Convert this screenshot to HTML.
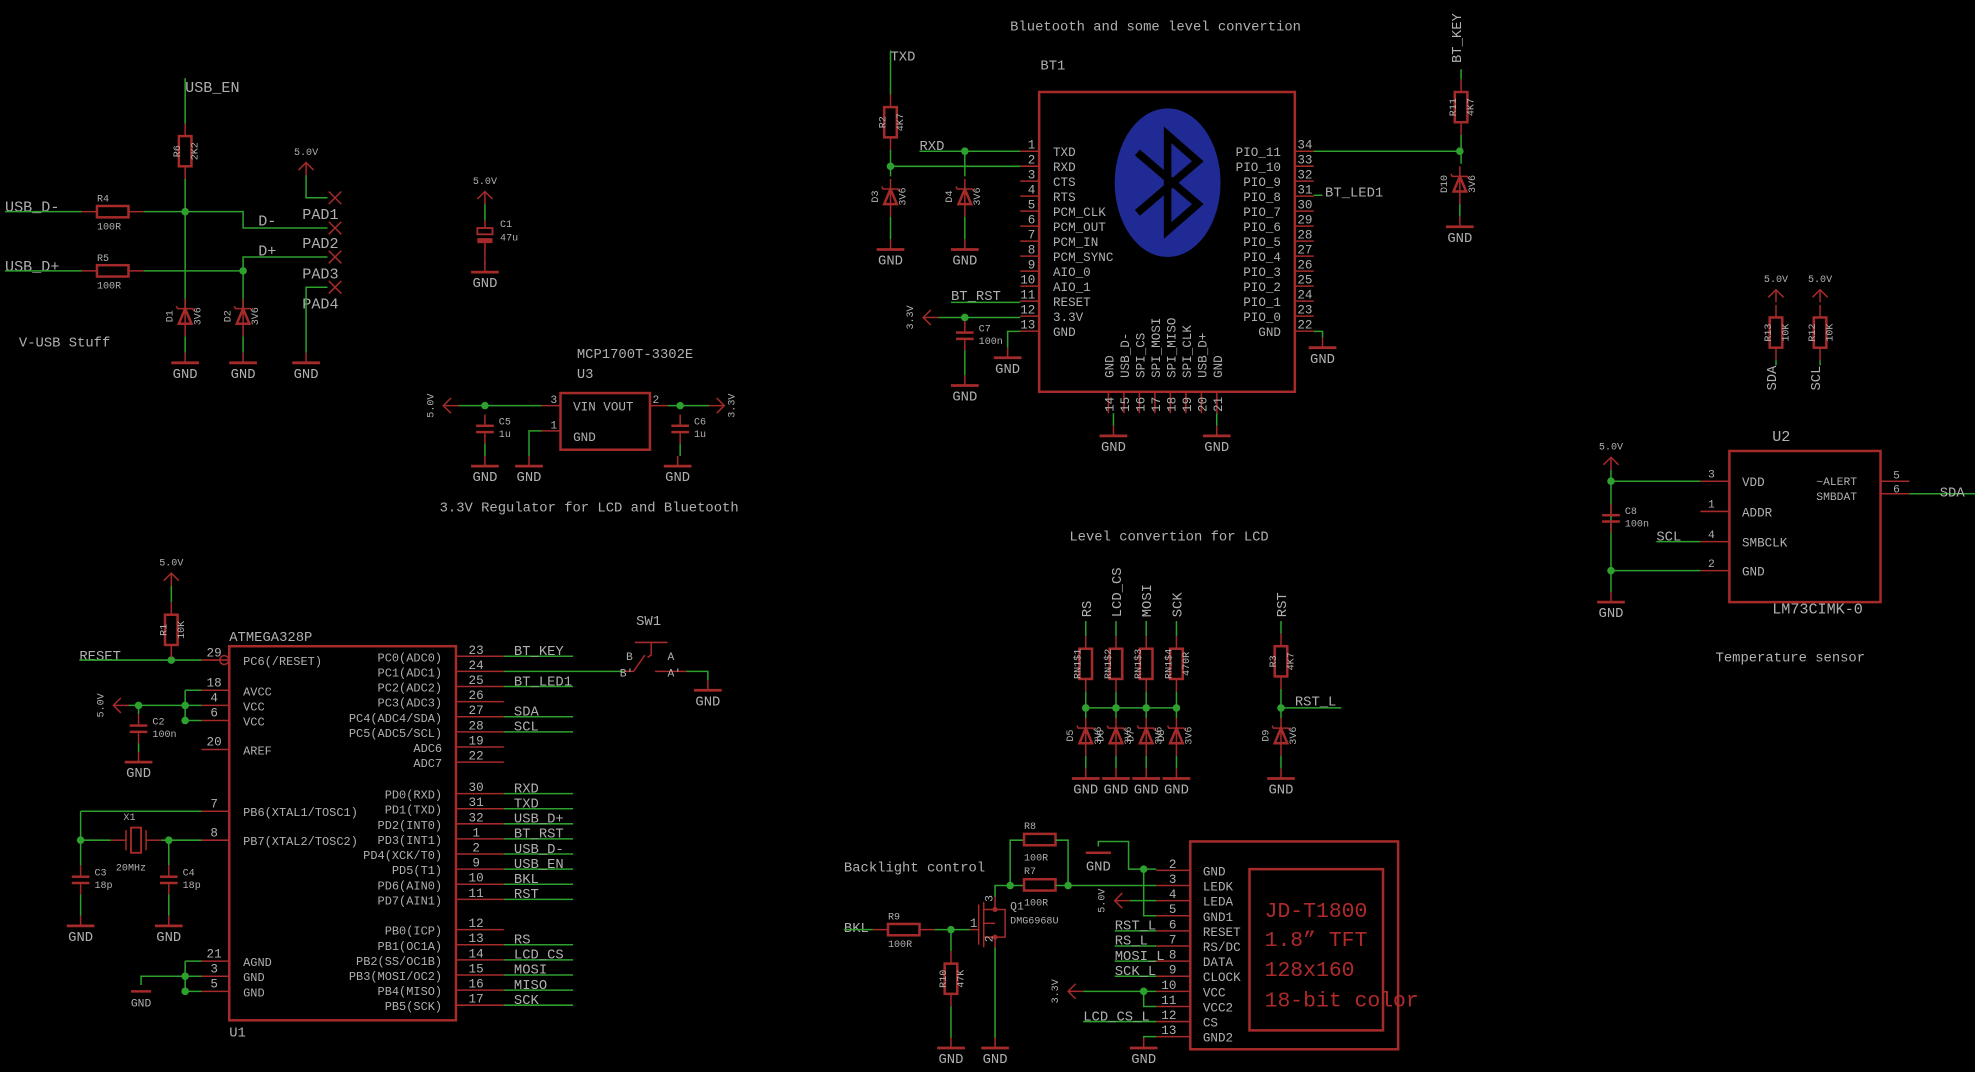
<!DOCTYPE html>
<html><head><meta charset="utf-8"><style>
html,body{margin:0;padding:0;background:#000;overflow:hidden}
svg{display:block}
text{font-family:"Liberation Mono",monospace;fill:#b0b0b0}
</style></head><body>
<svg id="s" width="1975" height="1072" viewBox="0 0 1568 851" xmlns="http://www.w3.org/2000/svg"></svg>
<script>
var o='';var RC='#a52a2a',GC='#2ea02e';
function pl(c,p,w){o+='<polyline points="'+p.join(' ')+'" fill="none" stroke="'+c+'" stroke-width="'+(w||1.2)+'"/>';}
function g(){pl(GC,[].slice.call(arguments));}
function r(){pl(RC,[].slice.call(arguments));}
function t(x,y,s,sz,a,rot,col){sz=sz||11;var tr=rot?' transform="rotate(-90 '+x+' '+y+')"':'';o+='<text x="'+x+'" y="'+y+'" font-size="'+sz+'"'+(a?' text-anchor="'+a+'"':'')+tr+(col?' style="fill:'+col+'"':'')+'>'+s+'</text>';}
function box(x,y,w,h,sw){o+='<rect x="'+x+'" y="'+y+'" width="'+w+'" height="'+h+'" fill="none" stroke="'+RC+'" stroke-width="'+(sw||2)+'"/>';}
function dot(x,y){o+='<circle cx="'+x+'" cy="'+y+'" r="3" fill="'+GC+'"/>';}
function resV(x,y,n,v){r(x+','+(y-10),x+','+y);box(x-5,y,10,24);r(x+','+(y+24),x+','+(y+34));if(n)t(x-4,y+12,n,8,'middle',1);if(v)t(x+10,y+12,v,8,'middle',1);}
function resH(x,y,n,v){r((x-12)+','+y,x+','+y);box(x,y-4.5,25,9);r((x+25)+','+y,(x+37)+','+y);if(n)t(x,y-8,n,8);if(v)t(x,y+14,v,8);}
function gnd(x,y,lab){o+='<line x1="'+(x-11)+'" y1="'+y+'" x2="'+(x+11)+'" y2="'+y+'" stroke="'+RC+'" stroke-width="2.2"/>';r(x+','+(y-8),x+','+y);t(x,y+12,lab||'GND',11,'middle');}
function sup(x,y,lab){r((x-6)+','+(y+6),x+','+y,(x+6)+','+(y+6));r(x+','+y,x+','+(y+10));t(x,y-6,lab,8,'middle');}
function supL(x,y,lab){r((x+6)+','+(y-6),x+','+y,(x+6)+','+(y+6));r(x+','+y,(x+12)+','+y);t(x-8,y,lab,8,'middle',1);}
function supR(x,y,lab){r((x-6)+','+(y-6),x+','+y,(x-6)+','+(y+6));r(x+','+y,(x-12)+','+y);t(x+8,y,lab,8,'middle',1);}
function dio(x,y,n,v){r(x+','+(y-8),x+','+(y+22));o+='<polygon points="'+(x-5)+','+(y+12)+' '+(x+5)+','+(y+12)+' '+x+','+y+'" fill="none" stroke="'+RC+'" stroke-width="2"/>';r((x-7)+','+(y-2),(x-6)+','+y,(x+6)+','+y,(x+7)+','+(y+2));t(x-10,y+6,n,8,'middle',1);t(x+12,y+6,v||'3V6',8,'middle',1);}
function cap(x,y,n,v){r(x+','+(y-8),x+','+y);o+='<rect x="'+(x-7)+'" y="'+y+'" width="14" height="2" fill="'+RC+'"/><rect x="'+(x-7)+'" y="'+(y+5)+'" width="14" height="2" fill="'+RC+'"/>';r(x+','+(y+7),x+','+(y+15));if(n)t(x+11,y,n,8);if(v)t(x+11,y+10,v,8);}
function X(x,y){r((x-5)+','+(y-5),(x+5)+','+(y+5));r((x-5)+','+(y+5),(x+5)+','+(y-5));}

/* V-USB */
t(147,73,'USB_EN',12);g('147,62','147,98');resV(147,108,'R6','2K2');g('147,142','147,245');dot(147,168);
t(4,168,'USB_D-',12);g('4,168','65,168');resH(77,168,'R4','100R');g('114,168','193,168','193,181','260,181');t(205,179,'D-',12);X(266,181);
t(4,215,'USB_D+',12);g('4,215','65,215');resH(77,215,'R5','100R');g('114,215','193,215');dot(193,215);g('193,215','193,204','260,204');t(205,203,'D+',12);X(266,204);
sup(243,129,'5.0V');g('243,139','243,157','260,157');X(266,157);
t(240,174,'PAD1',12);t(240,197,'PAD2',12);t(240,221,'PAD3',12);t(240,245,'PAD4',12);
X(266,228);g('260,228','243,228','243,280');gnd(243,288);
g('193,215','193,245');dio(147,245,'D1');dio(193,245,'D2');g('147,267','147,280');g('193,267','193,280');gnd(147,288);gnd(193,288);
t(15,275,'V-USB Stuff',11);
/* C1 */
sup(385,152,'5.0V');g('385,162','385,175');r('385,175','385,181');o+='<rect x="379" y="181" width="12" height="5" fill="none" stroke="'+RC+'" stroke-width="1.5"/><rect x="379" y="189" width="12" height="4" fill="'+RC+'"/>';t(397,180,'C1',8);t(397,191,'47u',8);r('385,193','385,210');gnd(385,216);
/* U3 */
t(458,284,'MCP1700T-3302E',11);t(458,300,'U3',11);box(445,312,71,45);t(455,326,'VIN VOUT',10);t(455,350,'GND',10);
r('430,322','445,322');t(437,320,'3',9);supL(352,322,'5.0V');g('364,322','430,322');dot(385,322);cap(385,337,'C5','1u');g('385,352','385,362');gnd(385,370);
r('430,342','445,342');t(437,340,'1',9);g('430,342','420,342','420,362');gnd(420,370);
r('516,322','530,322');t(518,320,'2',9);supR(575,322,'3.3V');g('530,322','563,322');dot(540,322);cap(540,337,'C6','1u');g('540,352','540,362');gnd(538,370);
t(349,406,'3.3V Regulator for LCD and Bluetooth',11);
/* BT1 */
t(802,24,'Bluetooth and some level convertion',11);t(826,55,'BT1',11);box(825,73,203,238);
o+='<ellipse cx="927" cy="145" rx="42" ry="59" fill="#1f2a94"/>';
pl('#000',['903,121','951,162','927,183','927,107','951,128','903,169'],6);
var L=['TXD','RXD','CTS','RTS','PCM_CLK','PCM_OUT','PCM_IN','PCM_SYNC','AIO_0','AIO_1','RESET','3.3V','GND'];
for(var i=0;i<13;i++){var y=120+i*11.9;r('810,'+y,'825,'+y);t(822,y-2,i+1,10,'end');t(836,y+4,L[i],10);}
var RR=['PIO_11','PIO_10','PIO_9','PIO_8','PIO_7','PIO_6','PIO_5','PIO_4','PIO_3','PIO_2','PIO_1','PIO_0','GND'];
for(var i=0;i<13;i++){var y=120+i*11.9;r('1028,'+y,'1043,'+y);t(1030,y-2,34-i,10);t(1017,y+4,RR[i],10,'end');}
var B=['GND','USB_D-','SPI_CS','SPI_MOSI','SPI_MISO','SPI_CLK','USB_D+','GND'];
for(var i=0;i<8;i++){var x=880+i*12.3;r(x+',311',x+',328');t(x+4,300,B[i],10,null,1);t(x+4,327,14+i,10,null,1);}
g('884,328','884,338');gnd(884,346);g('966,328','966,338');gnd(966,346);
t(707,48,'TXD',11);g('707,40','707,75');resV(707,85,'R2','4K7');g('707,119','707,140');dot(707,132);g('707,132','810,132');dio(707,150,'D3');g('707,172','707,190');gnd(707,198);
t(730,119,'RXD',11);g('730,120','810,120');dot(766,120);g('766,120','766,140');dio(766,150,'D4');g('766,172','766,190');gnd(766,198);
t(755,238,'BT_RST',11);g('755,240','810,240');supL(733,252,'3.3V');g('745,252','810,252');dot(766,252);cap(766,263,'C7','100n');g('766,278','766,298');gnd(766,306);
g('810,263','800,263','800,276');gnd(800,284);
t(1160,50,'BT_KEY',11,null,1);g('1160,55','1160,63');resV(1160,73,'R11','4K7');g('1160,107','1160,130');dot(1159,120);g('1043,120','1159,120');dio(1159,140,'D10');g('1159,162','1159,172');gnd(1159,180);
t(1052,156,'BT_LED1',11);g('1043,155','1050,155');g('1043,263','1050,263','1050,268');gnd(1050,276);
/* U2 */
box(1373,358,120,120);t(1407,350,'U2',12);t(1407,487,'LM73CIMK-0',12);t(1362,525,'Temperature sensor',11);
var ul=[[382,'3','VDD'],[406,'1','ADDR'],[430,'4','SMBCLK'],[453,'2','GND']];
ul.forEach(function(p){r('1350,'+p[0],'1373,'+p[0]);t(1356,p[0]-3,p[1],9);t(1383,p[0]+4,p[2],10);});
r('1493,382','1516,382');t(1503,380,'5',9);r('1493,392','1516,392');t(1503,391,'6',9);t(1442,385,'~ALERT',9);t(1442,397,'SMBDAT',9);
g('1516,392','1568,392');t(1540,394,'SDA',11);
sup(1279,363,'5.0V');g('1279,373','1279,453');g('1279,382','1350,382');dot(1279,382);cap(1279,408,'C8','100n');dot(1279,453);g('1279,453','1350,453');g('1279,453','1279,470');gnd(1279,478);
t(1315,429,'SCL',11);g('1315,430','1350,430');
sup(1410,230,'5.0V');resV(1410,252,'R13','10K');t(1410,310,'SDA',11,null,1);g('1410,286','1410,290');
sup(1445,230,'5.0V');resV(1445,252,'R12','10K');t(1445,310,'SCL',11,null,1);g('1445,286','1445,290');
/* Level */
t(849,429,'Level convertion for LCD',11);
var cols=[[862,'RS','D5','RN1$1'],[886,'LCD_CS','D6','RN1$2'],[910,'MOSI','D7','RN1$3'],[934,'SCK','D8','RN1$4']];
cols.forEach(function(c,i){var x=c[0];t(x+4,490,c[1],11,null,1);g(x+',493',x+',505');resV(x,515,c[3],i==3?'470R':'');g(x+',549',x+',570');dot(x,562);dio(x,578,c[2]);g(x+',600',x+',610');gnd(x,618);});
g('862,562','934,562');
t(1021,490,'RST',11,null,1);g('1017,493','1017,503');resV(1017,513,'R3','4K7');g('1017,547','1017,570');dot(1017,562);g('1017,562','1065,562');t(1028,560,'RST_L',11);dio(1017,578,'D9');g('1017,600','1017,610');gnd(1017,618);
/* ATMEGA */
box(182,513,180,297);t(182,509,'ATMEGA328P',11);t(182,823,'U1',11);
var al=[[524,'29','PC6(/RESET)'],[548,'18','AVCC'],[560,'4','VCC'],[572,'6','VCC'],[595,'20','AREF'],[644,'7','PB6(XTAL1/TOSC1)'],[667,'8','PB7(XTAL2/TOSC2)'],[763,'21','AGND'],[775,'3','GND'],[787,'5','GND']];
al.forEach(function(p){r('160,'+p[0],'182,'+p[0]);t(170,p[0]-3,p[1],10,'middle');t(193,p[0]+4,p[2],9.5);});
o+='<circle cx="178" cy="524" r="3.5" fill="none" stroke="'+RC+'" stroke-width="1.2"/>';
var ar=[[521,'23','PC0(ADC0)','BT_KEY'],[533,'24','PC1(ADC1)',''],[545,'25','PC2(ADC2)','BT_LED1'],[557,'26','PC3(ADC3)',''],[569,'27','PC4(ADC4/SDA)','SDA'],[581,'28','PC5(ADC5/SCL)','SCL'],[593,'19','ADC6',''],[605,'22','ADC7',''],[630,'30','PD0(RXD)','RXD'],[642,'31','PD1(TXD)','TXD'],[654,'32','PD2(INT0)','USB_D+'],[666,'1','PD3(INT1)','BT_RST'],[678,'2','PD4(XCK/T0)','USB_D-'],[690,'9','PD5(T1)','USB_EN'],[702,'10','PD6(AIN0)','BKL'],[714,'11','PD7(AIN1)','RST'],[738,'12','PB0(ICP)',''],[750,'13','PB1(OC1A)','RS'],[762,'14','PB2(SS/OC1B)','LCD_CS'],[774,'15','PB3(MOSI/OC2)','MOSI'],[786,'16','PB4(MISO)','MISO'],[798,'17','PB5(SCK)','SCK']];
ar.forEach(function(p){r('362,'+p[0],'400,'+p[0]);t(378,p[0]-2,p[1],10,'middle');t(351,p[0]+4,p[2],9.5,'end');if(p[3]){g('400,'+p[0],'455,'+p[0]);t(408,p[0]-1,p[3],11);}});
g('400,533','495,533');t(505,496,'SW1',11);r('495,533','503,533','512,520');r('520,533','545,533');r('504,510','530,510');r('517,510','517,520','514,522');t(497,524,'B',9);t(530,524,'A',9);t(492,537,"B'",9);t(530,537,"A'",9);
g('545,533','562,533','562,540');gnd(562,548);
t(63,524,'RESET',11);g('63,524','160,524');dot(136,524);sup(136,455,'5.0V');g('136,465','136,478');resV(136,488,'R1','10K');
supL(90,560,'5.0V');g('102,560','160,560');g('147,548','147,572');g('147,548','160,548');g('147,572','160,572');dot(147,560);dot(147,572);dot(110,560);g('110,560','110,567');cap(110,575,'C2','100n');g('110,590','110,597');gnd(110,605);
g('64,644','160,644');g('64,644','64,687');g('64,667','88,667');r('88,667','100,667');o+='<rect x="104" y="657" width="8" height="20" fill="none" stroke="'+RC+'" stroke-width="1.5"/>';r('100,659','100,675');r('116,659','116,675');r('116,667','128,667');g('128,667','160,667');dot(64,667);dot(134,667);t(98,651,'X1',8);t(92,691,'20MHz',8);
cap(64,695,'C3','18p');g('64,710','64,727');gnd(64,735);g('134,667','134,687');cap(134,695,'C4','18p');g('134,710','134,727');gnd(134,735);
g('147,763','160,763');g('147,775','160,775');g('147,787','160,787');g('147,763','147,787');dot(147,775);dot(147,787);g('147,775','112,775','112,782');o+='<line x1="104" y1="787" x2="120" y2="787" stroke="'+RC+'" stroke-width="2"/>';t(112,799,'GND',9,'middle');
/* Backlight */
t(670,692,'Backlight control',11);t(670,740,'BKL',11);g('670,738','693,738');resH(705,738,'R9','100R');g('742,738','770,738');dot(755,738);g('755,738','755,755');resV(755,765,'R10','47K');g('755,799','755,824');gnd(755,832);
r('770,738','777,738');r('777,718','777,750');r('781,716','781,752');r('781,722','790,722','790,712');r('781,744','790,744','790,752');r('781,733','790,733');o+='<circle cx="790" cy="722" r="2" fill="'+RC+'"/><circle cx="790" cy="744" r="2" fill="'+RC+'"/>';r('790,722','798,722','798,744','790,744');t(802,722,'Q1',9);t(802,733,'DMG6968U',8);t(788,716,'3',9,null,1);t(788,748,'2',9,null,1);t(770,736,'1',10);
g('790,712','790,703','813,703');g('802,703','802,667','813,667');dot(802,703);r('813,667','813,667');box(813,662,25,9);box(813,698,25,9);t(813,658,'R8',8);t(813,683,'100R',8);t(813,694,'R7',8);t(813,719,'100R',8);
g('838,667','848,667','848,703');g('838,703','918,703');dot(848,703);g('790,752','790,824');gnd(790,832);
g('872,672','872,668','896,668','896,690','918,690');o+='<line x1="862" y1="677" x2="882" y2="677" stroke="'+RC+'" stroke-width="2"/>';t(872,691,'GND',11,'middle');dot(908,690);g('908,690','908,727','918,727');
var lp=['GND','LEDK','LEDA','GND1','RESET','RS/DC','DATA','CLOCK','VCC','VCC2','CS','GND2'];
for(var i=0;i<12;i++){var y=691+i*12;r('918,'+y,'945,'+y);t(934,y-2,i+2,10,'end');t(955,y+4,lp[i],10);}
supL(885,715,'5.0V');g('897,715','918,715');
[['RST_L',739],['RS_L',751],['MOSI_L',763],['SCK_L',775]].forEach(function(p){g('885,'+p[1],'918,'+p[1]);t(885,p[1]-1,p[0],11);});
supL(848,787,'3.3V');g('860,787','918,787');dot(908,787);g('908,787','908,799','918,799');
g('860,811','918,811');t(860,810,'LCD_CS_L',11);g('918,823','908,823','908,824');gnd(908,832);
box(945,668,165,165);box(992,690,106,128);
t(1004,728,'JD-T1800',17,null,0,'#b02a2a');t(1004,751,'1.8&#8221; TFT',17,null,0,'#b02a2a');t(1004,775,'128x160',17,null,0,'#b02a2a');t(1004,799,'18-bit color',17,null,0,'#b02a2a');
document.getElementById('s').innerHTML=o;
</script>
</body></html>
